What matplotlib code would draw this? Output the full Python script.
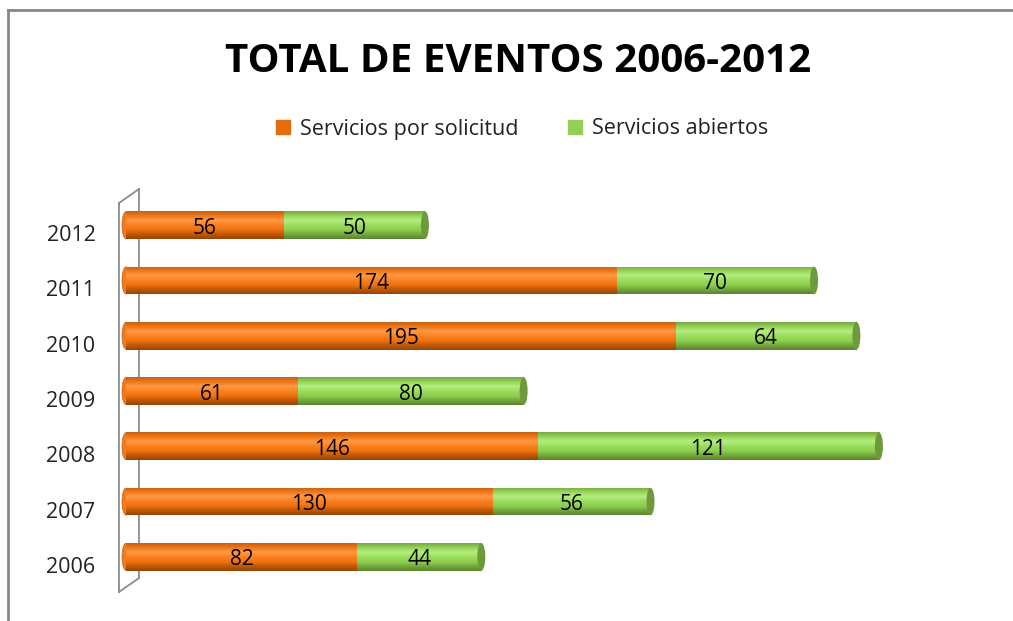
import numpy as np
import matplotlib
matplotlib.use("Agg")
import matplotlib.pyplot as plt
from matplotlib.patches import Ellipse
from matplotlib.lines import Line2D
from matplotlib.colors import LinearSegmentedColormap
from matplotlib.transforms import ScaledTranslation

plt.rcParams["font.family"] = ["Open Sans", "DejaVu Sans"]

years = ["2006", "2007", "2008", "2009", "2010", "2011", "2012"]
por_solicitud = [82, 130, 146, 61, 195, 174, 56]
abiertos = [44, 56, 121, 80, 64, 70, 50]

# shades bottom -> top to fake the cylinder look
SERIES = [
    ("Servicios por solicitud", por_solicitud, "#E46C0A",
     ["#9A4404", "#C05808", "#F07410", "#FB8020", "#FF9A48", "#F07818", "#C86010"]),
    ("Servicios abiertos", abiertos, "#92D050",
     ["#5A8430", "#76A83E", "#8ED04E", "#9ADC5C", "#B4EE80", "#96D458", "#78A844"]),
]

W, H = 1013, 621
fig = plt.figure(figsize=(W / 100, H / 100), dpi=100)
# plot area in pixels: x from 126 (value 0) with 2.82 px per unit
x0_px, px_per = 126, 2.82
xmax = 300
ax = fig.add_axes([x0_px / W, 1 - 590 / H, xmax * px_per / W, (590 - 192) / H])
ax.set_xlim(0, xmax)
ax.set_ylim(-0.6, len(years) - 0.4)

y = np.arange(len(years))
height = 0.5
left = np.zeros(len(years))
grad = np.linspace(0, 1, 64).reshape(-1, 1)
cap_w = 8 / px_per
shift = ScaledTranslation(0, -3 / 100, fig.dpi_scale_trans)

for i, (label, vals, legend_color, shades) in enumerate(SERIES):
    bars = ax.barh(y, vals, height=height, left=left, color=legend_color,
                   label=label, linewidth=0, zorder=2)
    cmap = LinearSegmentedColormap.from_list(label, shades)
    for b, v in zip(bars, vals):
        bx, by = b.get_x(), b.get_y()
        im = ax.imshow(grad, cmap=cmap, aspect="auto", origin="lower",
                       extent=(bx, bx + b.get_width(), by, by + height),
                       zorder=3, interpolation="bicubic")
        im.set_clip_path(b)
        ax.text(bx + b.get_width() / 2, by + height / 2, str(v),
                ha="center", va="center", fontsize=15, color="black", zorder=6,
                transform=ax.transData + shift)
    left = left + np.array(vals)

# cylinder caps: light rounded start, dark cap at the end
for yi, tot in zip(y, left):
    ax.add_patch(Ellipse((0, yi), cap_w, height * 0.98, facecolor="#F07A1C",
                         edgecolor="#D06010", lw=0.5, zorder=1, clip_on=False))
    ax.add_patch(Ellipse((tot, yi), cap_w, height, facecolor="#6E9A3C",
                         edgecolor="none", zorder=5))

ax.set_yticks(y)
ax.set_yticklabels(years, fontsize=15.5, color="#222222")
ax.tick_params(axis="y", length=0, pad=22)
for t in ax.get_yticklabels():
    t.set_transform(t.get_transform() + ScaledTranslation(0, -8 / 100, fig.dpi_scale_trans))
ax.set_xticks([])
for s in ax.spines.values():
    s.set_visible(False)
ax.set_facecolor("none")

# 3D left wall of the axis
gray = "#8C8C8C"
def fpt(px, py):
    return px / W, 1 - py / H
wall = [((119, 203), (139, 189)), ((139, 189), (139, 578)),
        ((139, 578), (119, 592)), ((119, 592), (119, 203))]
for (a, b) in wall:
    (xa, ya), (xb, yb) = fpt(*a), fpt(*b)
    fig.add_artist(Line2D([xa, xb], [ya, yb], color=gray, lw=1.3, zorder=0))

# frame (top and left edges visible)
fig.add_artist(Line2D([8 / W, 1.0], [1 - 10 / H, 1 - 10 / H], color="#888888", lw=2))
fig.add_artist(Line2D([8 / W, 8 / W], [1 - 10 / H, 0], color="#888888", lw=2))

fig.text(518 / W, 1 - 61 / H, "TOTAL DE EVENTOS 2006-2012", ha="center",
         va="center", fontsize=29, fontweight="bold", color="black")

handles = [plt.Rectangle((0, 0), 1, 1, color=s[2]) for s in SERIES]
fig.legend(handles, [s[0] for s in SERIES], loc="center",
           bbox_to_anchor=(522 / W, 1 - 129 / H), ncol=2, frameon=False,
           fontsize=15.5, handlelength=0.65, handleheight=0.65, handletextpad=0.45,
           columnspacing=2.3, labelcolor="#222222")

fig.savefig("out.png", dpi=100)
